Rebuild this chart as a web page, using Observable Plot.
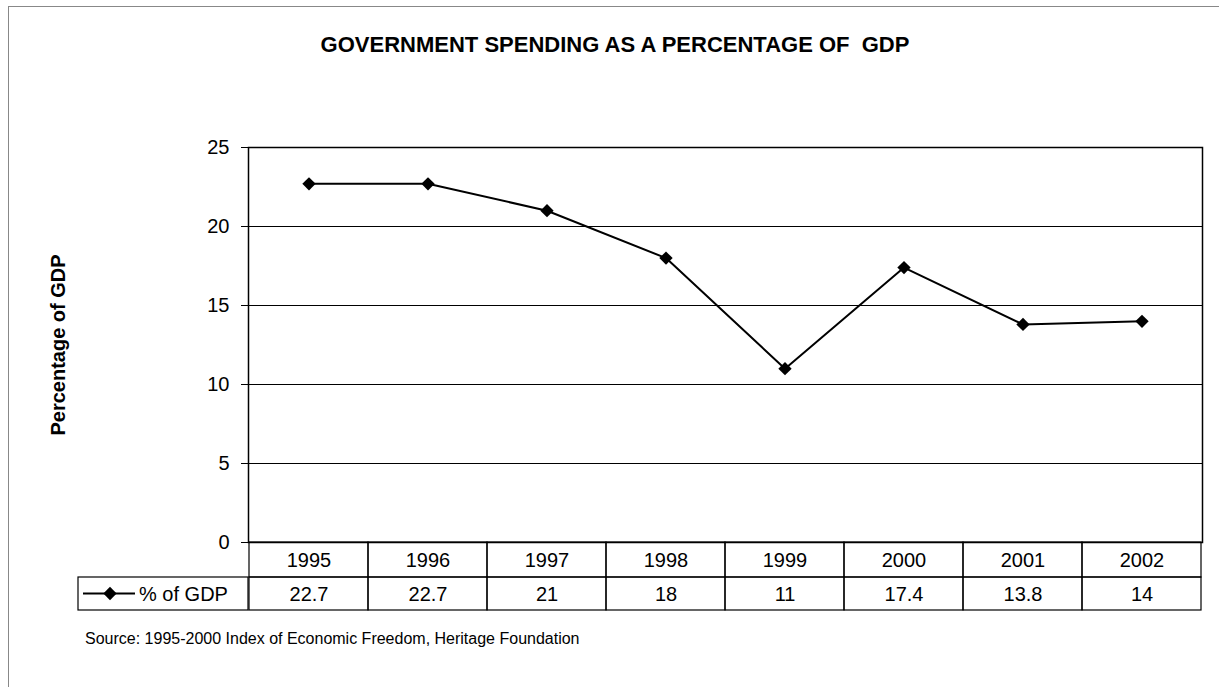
<!DOCTYPE html>
<html>
<head>
<meta charset="utf-8">
<script src="https://cdn.jsdelivr.net/npm/d3@7"></script>
<script src="https://cdn.jsdelivr.net/npm/@observablehq/plot@0.6"></script>
<style>
  html, body { margin: 0; padding: 0; background: #fff; }
  svg { display: block; font-family: "Liberation Sans", Arial, sans-serif; }
</style>
</head>
<body>
<div id="chart"></div>
<script>
const years = [1995, 1996, 1997, 1998, 1999, 2000, 2001, 2002];
const values = [22.7, 22.7, 21, 18, 11, 17.4, 13.8, 14];
const yTicks = [0, 5, 10, 15, 20, 25];
const titleText = "GOVERNMENT SPENDING AS A PERCENTAGE OF  GDP";
const yLabel = "Percentage of GDP";
const seriesName = "% of GDP";
const sourceText = "Source: 1995-2000 Index of Economic Freedom, Heritage Foundation";

const data = years.map((year, i) => ({year, value: values[i]}));

const W = 1219, H = 687;
const plot = Plot.plot({
  width: W,
  height: H,
  marginLeft: 248,
  marginRight: 17,
  marginTop: 147,
  marginBottom: 145,
  style: {fontFamily: '"Liberation Sans", Arial, sans-serif', background: "#fff", color: "#000"},
  x: {type: "band", domain: years, padding: 0, axis: null},
  y: {domain: [0, 25], ticks: yTicks},
  marks: [
    Plot.gridY(yTicks, {stroke: "#000", strokeOpacity: 1, strokeWidth: 1}),
    Plot.frame({stroke: "#000", strokeWidth: 1.5}),
    Plot.axisY(yTicks, {tickSize: 7, tickPadding: 12, fontSize: 20, label: null, stroke: "#000"}),
    // data table: year row and value row cells
    Plot.barY(data, {x: "year", y1: d => 0, y2: d => 0, insetBottom: -35, fill: "none", stroke: "#000", strokeWidth: 1.2}),
    Plot.barY(data, {x: "year", y1: d => 0, y2: d => 0, insetTop: 35, insetBottom: -68, fill: "none", stroke: "#000", strokeWidth: 1.2}),
    Plot.text(data, {x: "year", y: d => 0, text: d => String(d.year), dy: 18, fontSize: 20, lineAnchor: "middle", fill: "#000"}),
    Plot.text(data, {x: "year", y: d => 0, text: d => String(d.value), dy: 52, fontSize: 20, lineAnchor: "middle", fill: "#000"}),
    Plot.line(data, {x: "year", y: "value", stroke: "#000", strokeWidth: 2}),
    Plot.dot(data, {x: "year", y: "value", symbol: "diamond2", r: 6, fill: "#000", stroke: "none"})
  ]
});

const svg = d3.select(plot);
// outer frame (partially visible)
svg.insert("rect", ":first-child")
  .attr("x", 8.5).attr("y", 6.5).attr("width", W + 20).attr("height", H + 20)
  .attr("fill", "none").attr("stroke", "#888").attr("stroke-width", 1);

// title
svg.append("text")
  .attr("x", 615).attr("y", 52)
  .attr("text-anchor", "middle")
  .attr("font-size", 22).attr("font-weight", "bold")
  .attr("fill", "#000")
  .attr("xml:space", "preserve")
  .style("white-space", "pre")
  .text(titleText);

// y label
svg.append("text")
  .attr("transform", "translate(65,345) rotate(-90)")
  .attr("text-anchor", "middle")
  .attr("font-size", 20).attr("font-weight", "bold")
  .attr("fill", "#000")
  .text(yLabel);

// legend cell
const x = plot.scale("x"), y = plot.scale("y");
const left = x.range[0];
const y0 = y.apply(0);
const rowTop = y0 + 35, rowBot = y0 + 68, rowMid = (rowTop + rowBot) / 2;
const legend = svg.append("g");
legend.append("rect")
  .attr("x", 78).attr("y", rowTop).attr("width", left - 78).attr("height", rowBot - rowTop)
  .attr("fill", "none").attr("stroke", "#000").attr("stroke-width", 1.2);
legend.append("line")
  .attr("x1", 83).attr("x2", 135).attr("y1", rowMid).attr("y2", rowMid)
  .attr("stroke", "#000").attr("stroke-width", 2);
legend.append("path")
  .attr("transform", `translate(110,${rowMid})`)
  .attr("d", d3.symbol(d3.symbolDiamond2, Math.PI * 36)())
  .attr("fill", "#000");
legend.append("text")
  .attr("x", 139).attr("y", rowMid).attr("dy", "0.35em")
  .attr("text-anchor", "start")
  .attr("font-size", 20).attr("fill", "#000")
  .text(seriesName);

// source
svg.append("text")
  .attr("x", 85).attr("y", 644)
  .attr("text-anchor", "start")
  .attr("font-size", 16).attr("fill", "#000")
  .text(sourceText);

document.getElementById("chart").appendChild(plot);
</script>
</body>
</html>
